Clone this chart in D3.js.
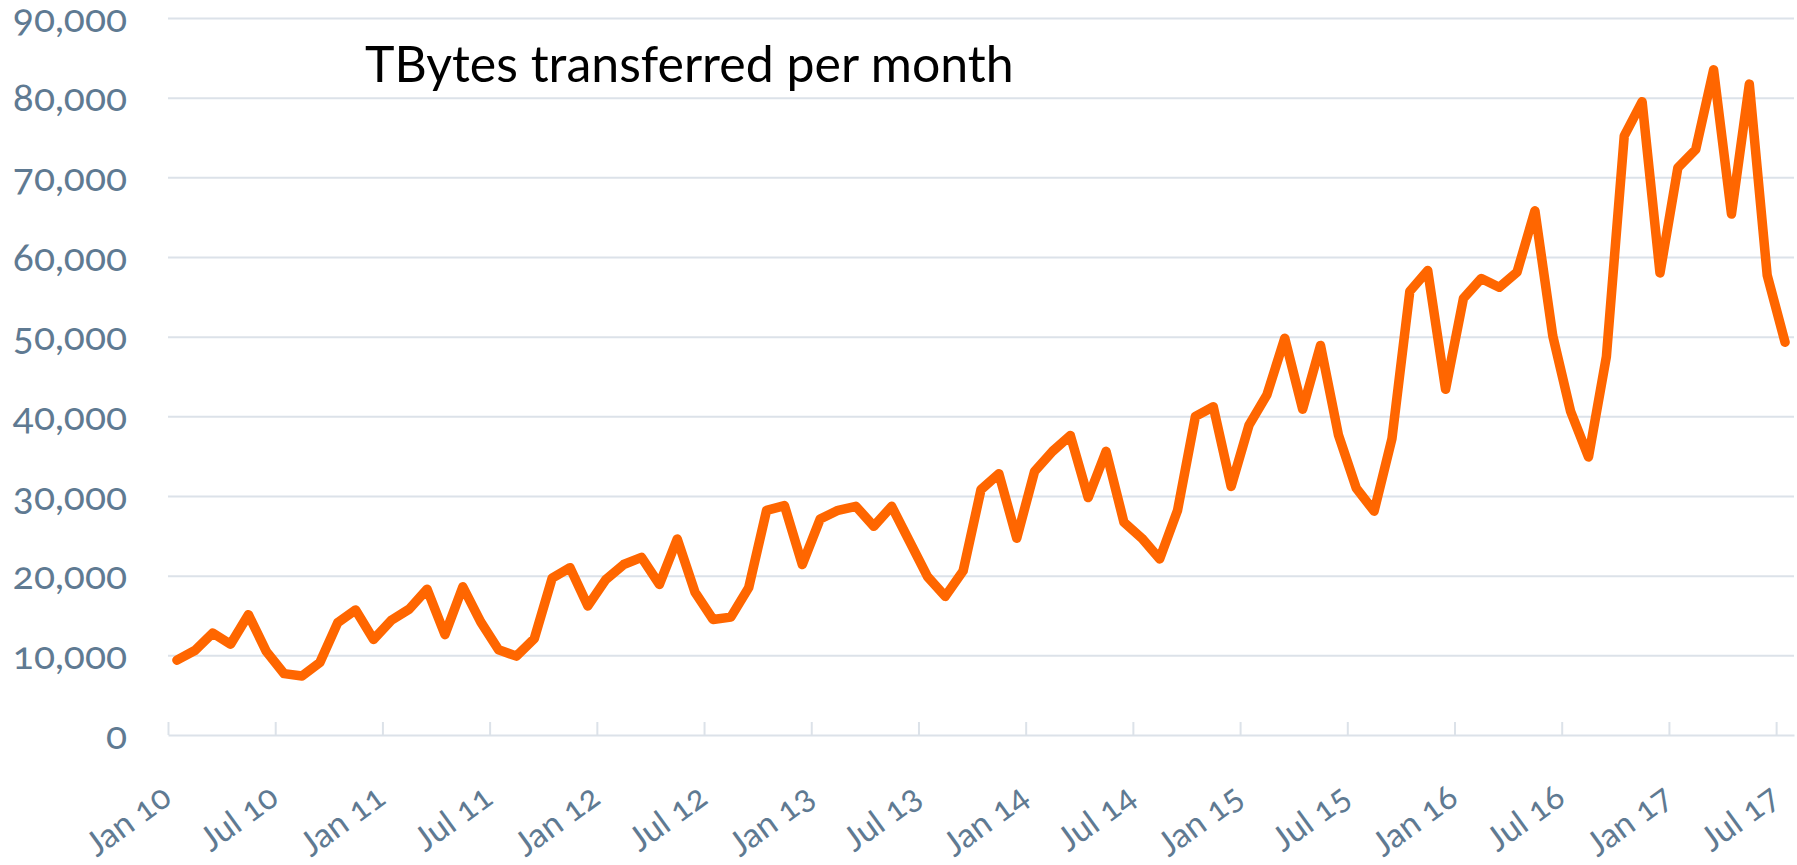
<!DOCTYPE html>
<html>
<head>
<meta charset="utf-8">
<script src="https://cdnjs.cloudflare.com/ajax/libs/d3/7.8.5/d3.min.js"></script>
<style>
	body { margin: 0; background: #ffffff; }
</style>
</head>
<body>
<script>

//MONTHS ON THE X AXIS, ONE PER DATA POINT
var months = [
	"Jan 10","Feb 10","Mar 10","Apr 10","May 10","Jun 10","Jul 10","Aug 10","Sep 10","Oct 10","Nov 10","Dec 10",
	"Jan 11","Feb 11","Mar 11","Apr 11","May 11","Jun 11","Jul 11","Aug 11","Sep 11","Oct 11","Nov 11","Dec 11",
	"Jan 12","Feb 12","Mar 12","Apr 12","May 12","Jun 12","Jul 12","Aug 12","Sep 12","Oct 12","Nov 12","Dec 12",
	"Jan 13","Feb 13","Mar 13","Apr 13","May 13","Jun 13","Jul 13","Aug 13","Sep 13","Oct 13","Nov 13","Dec 13",
	"Jan 14","Feb 14","Mar 14","Apr 14","May 14","Jun 14","Jul 14","Aug 14","Sep 14","Oct 14","Nov 14","Dec 14",
	"Jan 15","Feb 15","Mar 15","Apr 15","May 15","Jun 15","Jul 15","Aug 15","Sep 15","Oct 15","Nov 15","Dec 15",
	"Jan 16","Feb 16","Mar 16","Apr 16","May 16","Jun 16","Jul 16","Aug 16","Sep 16","Oct 16","Nov 16","Dec 16",
	"Jan 17","Feb 17","Mar 17","Apr 17","May 17","Jun 17","Jul 17"
];

//TBYTES TRANSFERRED
var tbytes = [
	9400, 10600, 12800, 11400, 15100, 10500, 7700, 7400, 9100, 14100, 15700, 12000,
	14400, 15800, 18300, 12600, 18600, 14200, 10700, 9900, 12100, 19700, 21000, 16200,
	19500, 21400, 22300, 18900, 24600, 17900, 14500, 14800, 18500, 28200, 28800, 21400,
	27100, 28200, 28700, 26200, 28700, 24300, 19900, 17400, 20600, 30800, 32800, 24700,
	33100, 35600, 37600, 29800, 35600, 26700, 24700, 22100, 28200, 40000, 41200, 31200,
	38900, 42700, 49800, 40900, 48900, 37700, 31000, 28100, 37200, 55700, 58300, 43400,
	54800, 57300, 56200, 58100, 65800, 50100, 40600, 34900, 47500, 75200, 79500, 58000,
	71200, 73500, 83500, 65400, 81700, 57700, 49300
];

var xTickLabels = ["Jan 10","Jul 10","Jan 11","Jul 11","Jan 12","Jul 12","Jan 13","Jul 13",
	"Jan 14","Jul 14","Jan 15","Jul 15","Jan 16","Jul 16","Jan 17","Jul 17"];

var yTicks = [0, 10000, 20000, 30000, 40000, 50000, 60000, 70000, 80000, 90000];

var chartTitle = "TBytes transferred per month";

window.onload = function() {
	Draw_Chart()
}

function Draw_Chart() {

	var width = 1797, height = 865
	var left = 168, right = 1794, top = 18, bottom = 735
	var axisColor = "#5f7a92", gridColor = "#dce2e9"
	var font = "Lato, 'Open Sans', sans-serif"

	var svg = d3.select("body").append("svg")
		.attr("width", width)
		.attr("height", height)

	//SCALES: ONE SLOT PER MONTH, POINTS SIT IN THE MIDDLE OF THEIR SLOT
	var x = d3.scaleLinear().domain([0, months.length]).range([left, right])
	var y = d3.scaleLinear().domain([0, 90000]).range([bottom, top])

	//GRIDLINES AND Y LABELS
	var yAxis = svg.append("g")
		.attr("transform", "translate(" + left + ",0)")
		.call(d3.axisLeft(y)
			.tickValues(yTicks.slice(1))
			.tickSize(-(right - left))
			.tickPadding(41)
			.tickFormat(d3.format(",")))
	yAxis.select(".domain").remove()
	yAxis.selectAll("line").style("stroke", gridColor).style("stroke-width", 2)

	//ZERO LABEL SEPARATELY, THE BASELINE COMES FROM THE X AXIS
	var zero = svg.append("g")
		.attr("transform", "translate(" + left + ",0)")
		.call(d3.axisLeft(y).tickValues([0]).tickSize(0).tickPadding(41).tickFormat(d3.format(",")))
	zero.select(".domain").remove()

	svg.selectAll("g text")
		.style("font-family", font)
		.style("font-size", "39px")
		.style("font-variant-numeric", "oldstyle-nums")
		.style("fill", axisColor)
		.attr("dy", "0.34em")

	//X AXIS WITH TICKS POINTING UP
	var xAxis = svg.append("g")
		.attr("transform", "translate(0," + bottom + ")")
		.call(d3.axisBottom(x)
			.tickValues(xTickLabels.map(function(d){ return months.indexOf(d) }))
			.tickSize(-13)
			.tickSizeOuter(0)
			.tickFormat(function(d){ return months[d] }))
	xAxis.select(".domain").style("stroke", gridColor).style("stroke-width", 2)
	xAxis.selectAll("line").style("stroke", gridColor).style("stroke-width", 2)
	xAxis.selectAll("text")
		.attr("x", 0).attr("y", 0).attr("dy", 0)
		.attr("text-anchor", "end")
		.attr("transform", "translate(5,67) rotate(-36)")
		.style("font-family", font)
		.style("font-size", "34px")
		.style("font-variant-numeric", "oldstyle-nums")
		.style("fill", axisColor)

	//THE LINE
	var line = d3.line()
		.x(function(d, i){ return x(i + 0.5) })
		.y(function(d){ return y(d) })

	svg.append("path")
		.datum(tbytes)
		.attr("d", line)
		.style("fill", "none")
		.style("stroke", "#ff6600")
		.style("stroke-width", 9.5)
		.style("stroke-linejoin", "round")
		.style("stroke-linecap", "round")

	//TITLE INSIDE THE PLOT
	svg.append("text")
		.attr("x", 365)
		.attr("y", 82)
		.text(chartTitle)
		.style("font-family", font)
		.style("font-size", "50px")
		.style("fill", "#000000")
}

</script>
</body>
</html>
